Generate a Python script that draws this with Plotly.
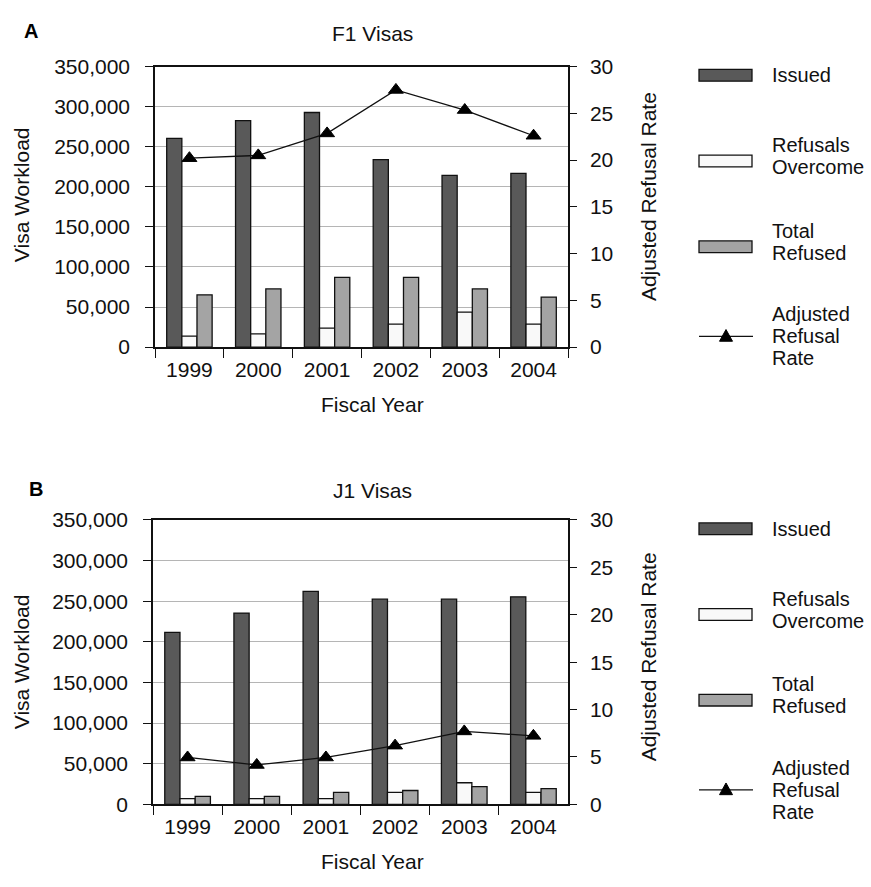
import plotly.graph_objects as go

# ---- data -------------------------------------------------------------
years = ["1999", "2000", "2001", "2002", "2003", "2004"]

f1_issued = [260500, 282600, 292700, 233900, 214200, 216600]
f1_overcome = [13700, 16500, 23750, 28600, 43500, 28600]
f1_refused = [65200, 72500, 87000, 87000, 72500, 62400]
f1_rate = [20.2, 20.5, 22.85, 27.5, 25.35, 22.6]

j1_issued = [211600, 235500, 262100, 252600, 252600, 255400]
j1_overcome = [7200, 7200, 7200, 14700, 26650, 14700]
j1_refused = [9900, 9900, 14700, 17100, 21900, 19500]
j1_rate = [4.95, 4.16, 4.95, 6.2, 7.7, 7.23]

workload_ticks = [0, 50000, 100000, 150000, 200000, 250000, 300000, 350000]
rate_ticks = [0, 5, 10, 15, 20, 25, 30]

series_names = ["Issued", "Refusals Overcome", "Total Refused"]
series_colors = ["#595959", "#f9f9f9", "#a4a4a4"]

# ---- page geometry (pixels) -------------------------------------------
W, H = 871, 887
FONT = "Liberation Sans, Arial, Helvetica, sans-serif"
FS = 21      # axis text
LFS = 20     # legend text
LSP = 22.5   # legend line spacing


def fx(x):
    return x / W


def fy(y):
    return 1 - y / H


panels = [
    dict(tag="A", title="F1 Visas", left=155, right=568, top=56, bottom=344,
         tag_y=19, title_y=22,
         issued=f1_issued, overcome=f1_overcome, refused=f1_refused, rate=f1_rate),
    dict(tag="B", title="J1 Visas", left=153, right=568, top=521.5, bottom=813.5,
         tag_y=490, title_y=491,
         issued=j1_issued, overcome=j1_overcome, refused=j1_refused, rate=j1_rate),
]

fig = go.Figure()
layout = dict(
    width=W, height=H, autosize=False,
    margin=dict(l=0, r=0, t=0, b=0),
    paper_bgcolor="white", plot_bgcolor="rgba(0,0,0,0)",
    font=dict(family=FONT, size=FS, color="#111"),
    barmode="group", bargap=0.34, bargroupgap=0,
    showlegend=False,
)
annotations = []
shapes = []

for i, p in enumerate(panels):
    # axis ids: x / y (workload) / y right (rate) / extra tick-only axes
    xn = 1 + i * 2          # main x axis
    xt = 2 + i * 2          # inside-tick companion x axis
    yl = 1 + i * 4          # left workload axis
    yr = 2 + i * 4          # right rate axis
    yri = 3 + i * 4         # inside-tick companion of right axis
    xk = "xaxis" if xn == 1 else f"xaxis{xn}"
    yk = "yaxis" if yl == 1 else f"yaxis{yl}"
    xref = "x" if xn == 1 else f"x{xn}"
    yref = "y" if yl == 1 else f"y{yl}"

    xdom = [fx(p["left"]), fx(p["right"])]
    ydom = [fy(p["bottom"]), fy(p["top"])]

    for name, vals, col in zip(series_names,
                               [p["issued"], p["overcome"], p["refused"]],
                               series_colors):
        fig.add_trace(go.Bar(
            x=years, y=vals, name=name, xaxis=xref, yaxis=yref,
            marker=dict(color=col, line=dict(color="#111", width=1.3)),
        ))

    fig.add_trace(go.Scatter(
        x=years, y=p["rate"], name="Adjusted Refusal Rate",
        xaxis=xref, yaxis=f"y{yr}", mode="lines+markers",
        line=dict(color="#111", width=1.3),
        marker=dict(symbol="triangle-up", size=13, color="#000",
                    line=dict(color="#000", width=1)),
    ))

    layout[xk] = dict(
        domain=xdom, anchor=yref, type="category",
        categoryorder="array", categoryarray=years,
        tickson="boundaries", ticks="outside", ticklen=9, tickwidth=1.3,
        tickcolor="#111", showline=True, linecolor="#111", linewidth=1.5,
        mirror=True, showgrid=False, zeroline=False,
        tickfont=dict(size=FS), ticklabelstandoff=3,
        range=[-0.5, 5.5], fixedrange=True,
    )
    layout[f"xaxis{xt}"] = dict(
        domain=xdom, anchor=yref, overlaying=xref, type="linear",
        range=[-0.5, 5.5], tick0=-0.5, dtick=1, ticks="inside", ticklen=8,
        tickwidth=1.3, tickcolor="#111", showticklabels=False,
        showline=False, showgrid=False, zeroline=False,
    )
    layout[yk] = dict(
        domain=ydom, anchor=xref, range=[0, 350000],
        tickvals=workload_ticks, tickformat=",", ticks="outside", ticklen=8,
        tickwidth=1.3, tickcolor="#111", showline=True, linecolor="#111",
        linewidth=1.5, showgrid=True, gridcolor="#b5b5b5", gridwidth=1.2,
        zeroline=False, tickfont=dict(size=FS), ticklabelstandoff=11,
    )
    layout[f"yaxis{yr}"] = dict(
        domain=ydom, anchor=xref, overlaying=yref, side="right",
        range=[0, 30], tickvals=rate_ticks, ticks="outside", ticklen=7,
        tickwidth=1.3, tickcolor="#111", showline=True, linecolor="#111",
        linewidth=1.5, showgrid=False, zeroline=False,
        tickfont=dict(size=FS), ticklabelstandoff=9,
    )
    layout[f"yaxis{yri}"] = dict(
        domain=ydom, anchor=xref, overlaying=yref, side="right",
        range=[0, 30], tickvals=rate_ticks, ticks="inside", ticklen=7,
        tickwidth=1.3, tickcolor="#111", showticklabels=False,
        showline=False, showgrid=False, zeroline=False,
    )

    off = p["top"] - 56  # vertical offset of this panel's decorations
    mid = (p["top"] + p["bottom"]) / 2

    # panel letter and title
    annotations.append(dict(text=f"<b>{p['tag']}</b>", x=fx(31 + 5 * i), y=fy(p["tag_y"]),
                            xref="paper", yref="paper", showarrow=False,
                            font=dict(size=20, color="#000"), xanchor="center", yanchor="middle"))
    annotations.append(dict(text=p["title"], x=fx(372), y=fy(p["title_y"]),
                            xref="paper", yref="paper", showarrow=False,
                            font=dict(size=21), xanchor="center", yanchor="middle"))
    # axis titles
    annotations.append(dict(text="Fiscal Year", x=fx(372), y=fy(p["bottom"] + 59),
                            xref="paper", yref="paper", showarrow=False,
                            font=dict(size=FS), xanchor="center", yanchor="middle"))
    annotations.append(dict(text="Visa Workload", x=fx(21), y=fy(mid - 12 + 12 * i),
                            xref="paper", yref="paper", showarrow=False, textangle=-90,
                            font=dict(size=FS), xanchor="center", yanchor="middle"))
    annotations.append(dict(text="Adjusted Refusal Rate", x=fx(648), y=fy(mid - 10 + 5 * i),
                            xref="paper", yref="paper", showarrow=False, textangle=-90,
                            font=dict(size=FS), xanchor="center", yanchor="middle"))

    # legend block to the right of the plot
    sw_x0, sw_x1, tx = 699, 752, 770
    legend_rows = [
        (65, ["Issued"], series_colors[0]),
        (153, ["Refusals", "Overcome"], series_colors[1]),
        (241, ["Total", "Refused"], series_colors[2]),
    ]
    for cy, lines, col in legend_rows:
        cy += off
        shapes.append(dict(type="rect", xref="paper", yref="paper",
                           x0=fx(sw_x0), x1=fx(sw_x1), y0=fy(cy - 6), y1=fy(cy + 6),
                           fillcolor=col, line=dict(color="#111", width=1.3)))
        n = len(lines)
        for k, t in enumerate(lines):
            ly = cy - 5 + (k - (n - 1) / 2) * LSP if n > 1 else cy
            annotations.append(dict(text=t, x=fx(tx), y=fy(ly), xref="paper", yref="paper",
                                    showarrow=False, xanchor="left", yanchor="middle",
                                    font=dict(size=LFS)))
    ly0 = 333 + off
    shapes.append(dict(type="line", xref="paper", yref="paper",
                       x0=fx(699), x1=fx(753), y0=fy(ly0), y1=fy(ly0),
                       line=dict(color="#111", width=1.3)))
    tri = (f"M {fx(719.5)} {fy(ly0 + 5)} L {fx(732.5)} {fy(ly0 + 5)} "
           f"L {fx(726)} {fy(ly0 - 7)} Z")
    shapes.append(dict(type="path", xref="paper", yref="paper", path=tri,
                       fillcolor="#000", line=dict(color="#000", width=1)))
    for k, t in enumerate(["Adjusted", "Refusal", "Rate"]):
        annotations.append(dict(text=t, x=fx(tx), y=fy(ly0 + (k - 1) * LSP), xref="paper", yref="paper",
                                showarrow=False, xanchor="left", yanchor="middle",
                                font=dict(size=LFS)))

layout["annotations"] = annotations
layout["shapes"] = shapes
fig.update_layout(**layout)

fig.write_html("out.html", include_plotlyjs=True, config={"displayModeBar": False})
